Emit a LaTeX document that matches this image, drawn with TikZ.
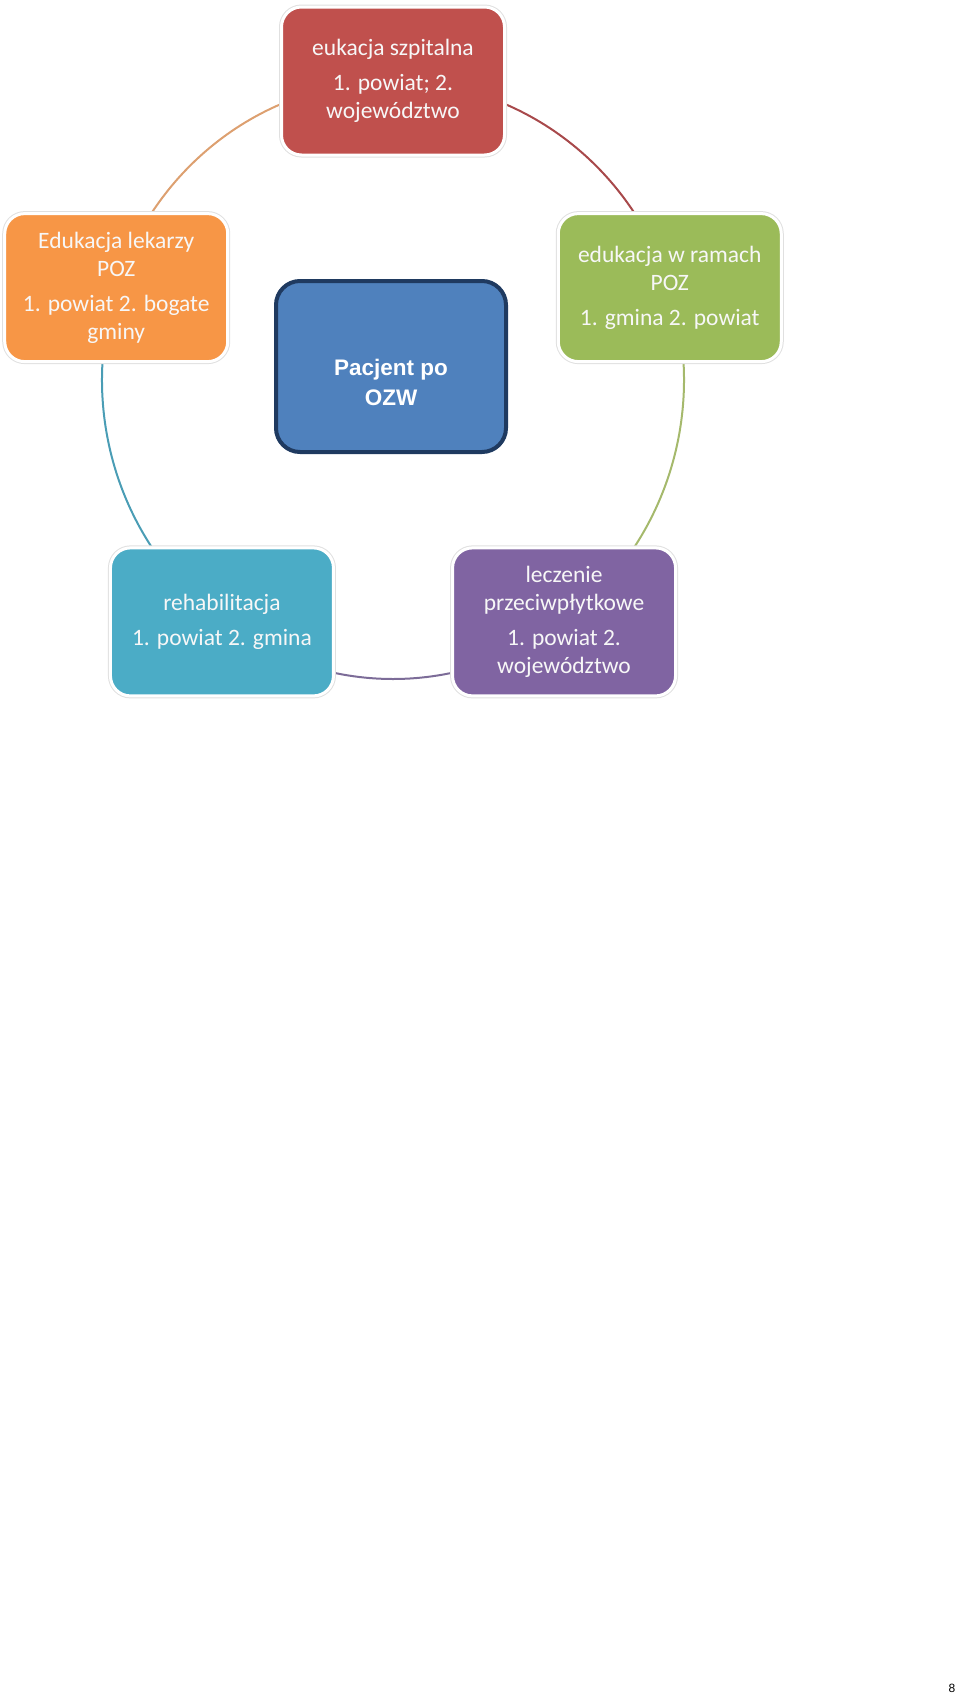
\documentclass[tikz,border=0pt]{standalone}
\usepackage{fontspec}
\setmainfont{Carlito}
\newfontfamily\arialfont{Liberation Sans}
\usetikzlibrary{backgrounds}
\definecolor{cRed}{HTML}{C0504D}
\definecolor{cOrange}{HTML}{F79646}
\definecolor{cGreen}{HTML}{9BBB59}
\definecolor{cPurple}{HTML}{8064A2}
\definecolor{cTeal}{HTML}{4BACC6}
\definecolor{cBlue}{HTML}{4F81BD}
\definecolor{cNavy}{HTML}{1F3A60}
\definecolor{aRed}{HTML}{A8494B}
\definecolor{aOrange}{HTML}{DDA070}
\definecolor{aGreen}{HTML}{A5B96C}
\definecolor{aPurple}{HTML}{7C6C98}
\definecolor{aTeal}{HTML}{4A9DB5}
\begin{document}
\begin{tikzpicture}[x=1pt,y=1pt,
  box/.style={rounded corners=20pt, minimum width=223pt, minimum height=148pt,
    draw=white, line width=3pt, text=white!97!black, align=center,
    font=\fontsize{23.5}{28}\selectfont, inner sep=0pt,
    preaction={draw=black!12, line width=5pt}},
  arcline/.style={line width=2pt},
  centerbox/.style={rounded corners=24pt, minimum width=230pt, minimum height=171pt,
    draw=cNavy, line width=4pt, fill=cBlue},
  centertext/.style={text=white, align=center, font=\arialfont\bfseries\fontsize{22.5}{30}\selectfont},
]
\useasboundingbox (0,0) rectangle (960,-1695);
\coordinate (O) at (393,-380);
\node[box, fill=cRed] (red) at ([shift={(90:291pt and 299pt)}]O)
  {eukacja szpitalna\\[7pt]1. powiat; 2.\\województwo};
\node[box, fill=cGreen] (green) at ([shift={(18:291pt and 299pt)}]O)
  {edukacja w ramach\\POZ\\[7pt]1. gmina 2. powiat};
\node[box, fill=cPurple] (purple) at ([shift={(-54:291pt and 299pt)}]O)
  {leczenie\\przeciwpłytkowe\\[7pt]1. powiat 2.\\województwo};
\node[box, fill=cTeal] (teal) at ([shift={(-126:291pt and 299pt)}]O)
  {rehabilitacja\\[7pt]1. powiat 2. gmina};
\node[box, fill=cOrange] (orange) at ([shift={(162:291pt and 299pt)}]O)
  {Edukacja lekarzy\\POZ\\[7pt]1. powiat 2. bogate\\gminy};
\node[centerbox] (blue) at (391,-366.5) {};
\node[centertext] (bluetext) at (391,-382) {Pacjent po\\OZW};
\node[font=\arialfont\fontsize{12}{14}\selectfont] (pagenum) at (952,-1688) {8};
\begin{scope}[on background layer]
\draw[arcline, aRed] (red.center) arc[start angle=90, end angle=18, x radius=291pt, y radius=299pt];
\draw[arcline, aGreen] (green.center) arc[start angle=18, end angle=-54, x radius=291pt, y radius=299pt];
\draw[arcline, aPurple] (purple.center) arc[start angle=-54, end angle=-126, x radius=291pt, y radius=299pt];
\draw[arcline, aTeal] (teal.center) arc[start angle=-126, end angle=-198, x radius=291pt, y radius=299pt];
\draw[arcline, aOrange] (orange.center) arc[start angle=162, end angle=90, x radius=291pt, y radius=299pt];
\end{scope}
\end{tikzpicture}
\end{document}
